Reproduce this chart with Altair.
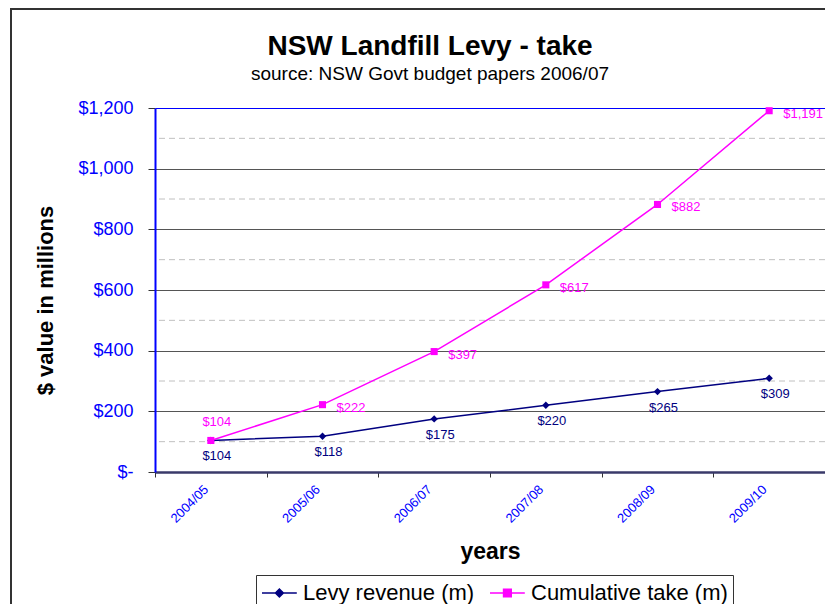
import altair as alt
import pandas as pd

years = ["2004/05", "2005/06", "2006/07", "2007/08", "2008/09", "2009/10"]
levy = [104, 118, 175, 220, 265, 309]
cumulative = [104, 222, 397, 617, 882, 1191]
series_names = ["Levy revenue (m)", "Cumulative take (m)"]
series_colors = ["#000080", "#FF00FF"]
y_ticks = [0, 200, 400, 600, 800, 1000, 1200]
minor_grid = [100, 300, 500, 700, 900, 1100]

rows = []
for yr, v in zip(years, levy):
    rows.append({"year": yr, "series": series_names[0], "value": v})
for yr, v in zip(years, cumulative):
    rows.append({"year": yr, "series": series_names[1], "value": v})
df = pd.DataFrame(rows)
minor_df = pd.DataFrame({"v": minor_grid})
one = pd.DataFrame({"a": [0]})

FONT = "Arial"
BLUE = "#0000FF"

xscale = alt.Scale(type="band", domain=years, paddingInner=0, paddingOuter=0)
yscale = alt.Scale(domain=[0, 1200], nice=False)

x_enc = alt.X(
    "year:N",
    scale=xscale,
    bandPosition=0.5,
    axis=alt.Axis(
        title="years",
        labelAngle=-45,
        labelAlign="right",
        labelBaseline="middle",
        labelColor=BLUE,
        labelFontSize=13,
        labelFont=FONT,
        labelPadding=10,
        labelOffset=-5,
        tickBand="extent",
        tickSize=5,
        tickColor="#333333",
        domainColor="#3a3a6a",
        domainWidth=2.5,
        titleFont=FONT,
        titleFontSize=23,
        titleFontWeight="bold",
        titleColor="black",
        titleY=79,
        titleBaseline="middle",
        grid=False,
    ),
)
y_enc = alt.Y(
    "value:Q",
    scale=yscale,
    axis=alt.Axis(
        title="$ value in millions",
        values=y_ticks,
        labelExpr="datum.value == 0 ? '$-' : '$' + format(datum.value, ',')",
        labelColor=BLUE,
        labelFontSize=18,
        labelFont=FONT,
        tickSize=7,
        tickColor="#333333",
        labelPadding=15,
        domainColor=BLUE,
        domainWidth=2,
        titleFont=FONT,
        titleFontSize=22,
        titleFontWeight="bold",
        titleColor="black",
        titleX=-110,
        titleY=192,
        titleAngle=-90,
        titleBaseline="middle",
        titleAlign="center",
        grid=True,
        gridColor={"condition": {"test": "datum.value === 1200", "value": BLUE}, "value": "#555555"},
        gridWidth=1,
    ),
)

color_scale = alt.Scale(domain=series_names, range=series_colors)

minor = alt.Chart(minor_df).mark_rule(strokeDash=[6, 4], color="#c0c0c0", strokeWidth=1).encode(
    y=alt.Y("v:Q", scale=yscale)
)

line_levy = alt.Chart(df).transform_filter(
    alt.datum.series == series_names[0]
).mark_line(strokeWidth=1.5, color="#000080").encode(x=x_enc, y=y_enc)

line_cum = alt.Chart(df).transform_filter(
    alt.datum.series == series_names[1]
).mark_line(strokeWidth=1.5, color="#FF00FF").encode(x=x_enc, y=y_enc)

pts_levy = alt.Chart(df).transform_filter(
    alt.datum.series == series_names[0]
).mark_point(shape="diamond", filled=True, size=55, color="#000080", opacity=1).encode(x=x_enc, y=y_enc)

pts_cum = alt.Chart(df).transform_filter(
    alt.datum.series == series_names[1]
).mark_point(shape="square", filled=True, size=50, color="#FF00FF", opacity=1).encode(x=x_enc, y=y_enc)

lab_levy = alt.Chart(df).transform_filter(
    alt.datum.series == series_names[0]
).mark_text(font=FONT, fontSize=13, color="#000080", dx=6, dy=16, baseline="middle").encode(
    x=x_enc, y=y_enc, text=alt.Text("value:Q", format="$,.0f")
)

lab_cum = alt.Chart(df).transform_filter(
    (alt.datum.series == series_names[1]) & (alt.datum.year != years[0])
).mark_text(font=FONT, fontSize=13, color="#FF00FF", dx=14, dy=3, align="left", baseline="middle").encode(
    x=x_enc, y=y_enc, text=alt.Text("value:Q", format="$,.0f")
)

lab_cum0 = alt.Chart(df).transform_filter(
    (alt.datum.series == series_names[1]) & (alt.datum.year == years[0])
).mark_text(font=FONT, fontSize=13, color="#FF00FF", dx=6, dy=-18, baseline="middle").encode(
    x=x_enc, y=y_enc, text=alt.Text("value:Q", format="$,.0f")
)

path_levy = "M-1,0L1.9,0M0.12,0L0.45,-0.33L0.78,0L0.45,0.33Z"
path_cum = "M-1,0L1.9,0M0.13,-0.32L0.77,-0.32L0.77,0.32L0.13,0.32Z"

leg_props = dict(
    title=None,
    orient="none",
    legendX=101,
    legendY=467,
    direction="horizontal",
)

legend_layer = alt.Chart(df).transform_filter("false").mark_point(filled=False, strokeWidth=1.5).encode(
    x=x_enc,
    y=y_enc,
    color=alt.Color("series:N", scale=color_scale, legend=alt.Legend(**leg_props)),
    shape=alt.Shape("series:N", scale=alt.Scale(domain=series_names, range=[path_levy, path_cum]),
                    legend=alt.Legend(**leg_props)),
    fill=alt.Fill("series:N", scale=alt.Scale(domain=series_names, range=series_colors),
                  legend=alt.Legend(**leg_props)),
)

border_left = alt.Chart(one).mark_rule(color="#333333", strokeWidth=2).encode(
    x=alt.value(-144), y=alt.value(-100), y2=alt.value(600)
)
border_top = alt.Chart(one).mark_rule(color="#333333", strokeWidth=2).encode(
    x=alt.value(-144), x2=alt.value(700), y=alt.value(-99)
)

chart = alt.layer(
    minor, line_levy, line_cum, pts_levy, pts_cum, lab_levy, lab_cum, lab_cum0, legend_layer,
    border_left, border_top
).properties(
    width=670,
    height=364,
    title=alt.Title(
        "NSW Landfill Levy - take",
        subtitle="source: NSW Govt budget papers 2006/07",
        font=FONT,
        fontSize=28,
        fontWeight="bold",
        color="black",
        subtitleFont=FONT,
        subtitleFontSize=19,
        subtitleColor="black",
        subtitlePadding=4,
        anchor="middle",
        frame="group",
        dx=-60,
        offset=-77,
    ),
    autosize=alt.AutoSizeParams(type="none"),
    padding={"left": 147, "top": 100, "right": 0, "bottom": 132},
).configure_view(stroke=None).configure_legend(
    labelFont=FONT,
    labelFontSize=22,
    labelColor="black",
    labelLimit=400,
    symbolSize=576,
    symbolStrokeWidth=1.5,
    symbolFillColor="white",
    symbolStrokeColor="black",
    symbolOpacity=1,
    labelOffset=16,
    columnPadding=12,
    padding=5,
    strokeColor="#333333",
    fillColor="white",
)

chart.save("out.html", embed_options={"renderer": "svg", "actions": False})
